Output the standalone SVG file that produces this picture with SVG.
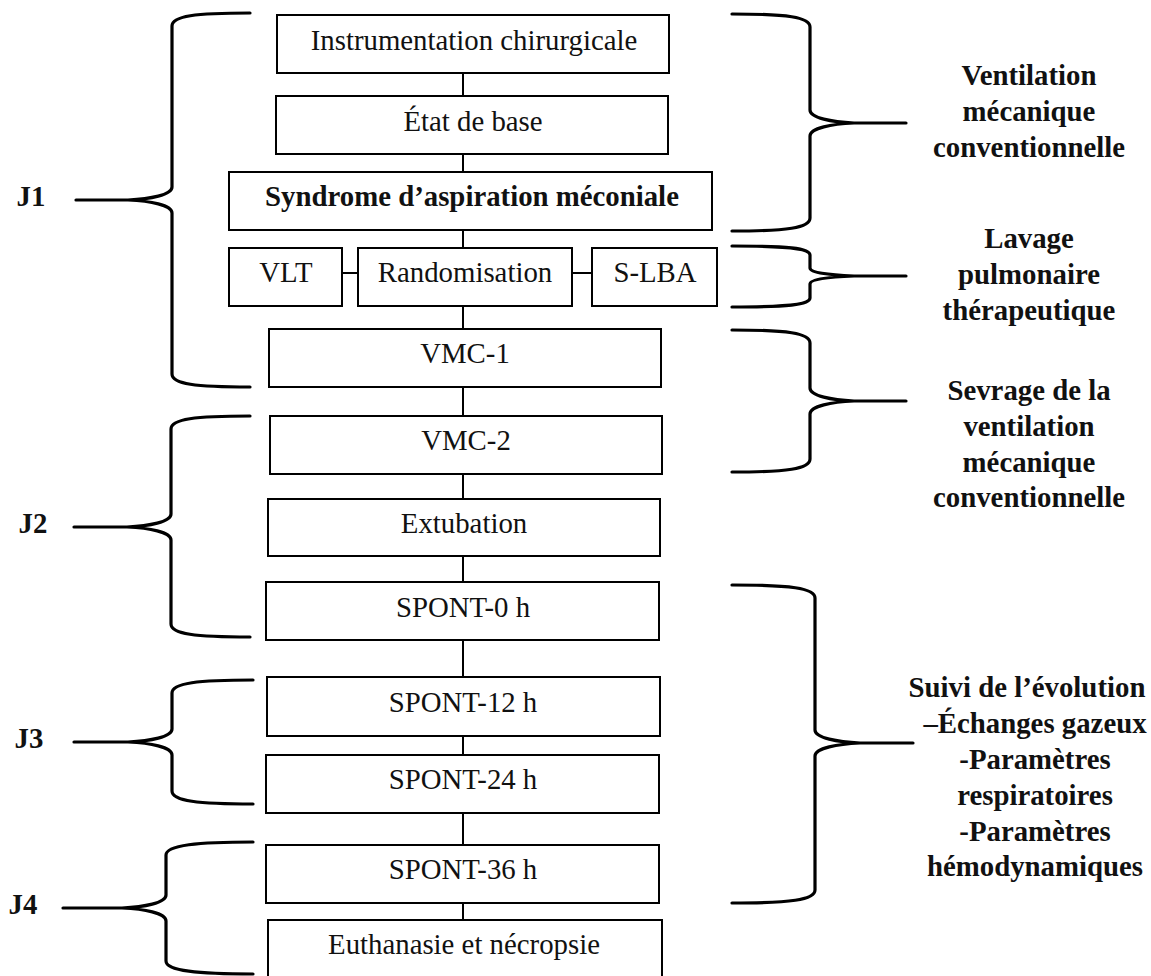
<svg xmlns="http://www.w3.org/2000/svg" width="1151" height="976" viewBox="0 0 1151 976">
<style>
.box{fill:#fff;stroke:#000;stroke-width:2}
.t{font-family:"Liberation Serif","Times New Roman",serif;font-size:28.8px;fill:#111;text-anchor:middle}
.b{font-family:"Liberation Serif","Times New Roman",serif;font-size:28.8px;font-weight:bold;fill:#111;text-anchor:middle}
.con{stroke:#000;stroke-width:2;fill:none}
.br{stroke:#000;stroke-width:3.2;fill:none;stroke-linecap:round}
</style>
<rect width="1151" height="976" fill="#fff"/>
<g id="connectors">
<line class="con" x1="463" y1="73" x2="463" y2="96"/>
<line class="con" x1="463" y1="154" x2="463" y2="172"/>
<line class="con" x1="463" y1="230" x2="463" y2="248"/>
<line class="con" x1="342" y1="273" x2="358" y2="273"/>
<line class="con" x1="572" y1="273" x2="592" y2="273"/>
<line class="con" x1="463" y1="306" x2="463" y2="329"/>
<line class="con" x1="463" y1="387" x2="463" y2="416"/>
<line class="con" x1="463" y1="474" x2="463" y2="499"/>
<line class="con" x1="463" y1="556" x2="463" y2="582"/>
<line class="con" x1="463" y1="640" x2="463" y2="677"/>
<line class="con" x1="463" y1="736" x2="463" y2="755"/>
<line class="con" x1="463" y1="813" x2="463" y2="845"/>
<line class="con" x1="463" y1="903" x2="463" y2="920"/>
</g>
<g id="brackets">
<path id="br-j1" class="br" d="M250,13 C195,13 172,16 172,26 L172,187 C172,195 150,199 128,200 L76,200 M128,200 C150,201 172,205 172,213 L172,374 C172,384 195,387 250,387"/>
<path id="br-j2" class="br" d="M250,416 C195,416 171,419 171,429 L171,514 C171,522 149,526 127,527 L74,527 M127,527 C149,528 171,532 171,540 L171,624 C171,634 195,637 250,637"/>
<path id="br-j3" class="br" d="M253,680 C198,680 172,683 172,693 L172,729 C172,737 150,741 128,742 L74,742 M128,742 C150,743 172,747 172,755 L172,791 C172,801 198,804 253,804"/>
<path id="br-j4" class="br" d="M253,842 C198,842 166,845 166,855 L166,895 C166,903 144,907 122,908 L63,908 M122,908 C144,909 166,913 166,921 L166,961 C166,971 198,974 253,974"/>
<path id="br-vmc" class="br" d="M732,14 C787,14 810,17 810,27 L810,110 C810,118 832,122 854,123 L906,123 M854,123 C832,124 810,128 810,136 L810,218 C810,228 787,231 732,231"/>
<path id="br-lav" class="br" d="M732,246 C787,246 810,248 810,255 L810,268 C810,273 832,275 854,276 L906,276 M854,276 C832,277 810,279 810,284 L810,298 C810,305 787,307 732,307"/>
<path id="br-sev" class="br" d="M732,330 C787,330 810,333 810,343 L810,388 C810,396 832,400 854,401 L906,401 M854,401 C832,402 810,406 810,414 L810,459 C810,469 787,472 732,472"/>
<path id="br-suivi" class="br" d="M732,585 C790,585 815,588 815,598 L815,730 C815,738 838,742 860,743 L913,743 M860,743 C838,744 815,748 815,756 L815,890 C815,900 790,903 732,903"/>
</g>
<g id="n-instr"><rect class="box" x="277" y="15" width="392" height="58"/><text class="t" x="474" y="50">Instrumentation chirurgicale</text></g>
<g id="n-etat"><rect class="box" x="276" y="96" width="392" height="58"/><text class="t" x="473" y="131">État de base</text></g>
<g id="n-sam"><rect class="box" x="229" y="172" width="483" height="58"/><text class="b" x="472" y="206">Syndrome d’aspiration méconiale</text></g>
<g id="n-vlt"><rect class="box" x="229" y="248" width="113" height="58"/><text class="t" x="286" y="282">VLT</text></g>
<g id="n-rand"><rect class="box" x="358" y="248" width="214" height="58"/><text class="t" x="465" y="282">Randomisation</text></g>
<g id="n-slba"><rect class="box" x="592" y="248" width="125" height="58"/><text class="t" x="655" y="282">S-LBA</text></g>
<g id="n-vmc1"><rect class="box" x="269" y="329" width="392" height="58"/><text class="t" x="465" y="363">VMC-1</text></g>
<g id="n-vmc2"><rect class="box" x="270" y="416" width="392" height="58"/><text class="t" x="466" y="450">VMC-2</text></g>
<g id="n-extub"><rect class="box" x="268" y="499" width="392" height="57"/><text class="t" x="464" y="533">Extubation</text></g>
<g id="n-sp0"><rect class="box" x="266" y="582" width="393" height="58"/><text class="t" x="463" y="617">SPONT-0 h</text></g>
<g id="n-sp12"><rect class="box" x="267" y="677" width="393" height="59"/><text class="t" x="463" y="712">SPONT-12 h</text></g>
<g id="n-sp24"><rect class="box" x="266" y="755" width="393" height="58"/><text class="t" x="463" y="789">SPONT-24 h</text></g>
<g id="n-sp36"><rect class="box" x="266" y="845" width="393" height="58"/><text class="t" x="463" y="879">SPONT-36 h</text></g>
<g id="n-euth"><rect class="box" x="268" y="920" width="394" height="70"/><text class="t" x="464" y="954">Euthanasie et nécropsie</text></g>
<g id="l-j1"><text class="b" x="31" y="206">J1</text></g>
<g id="l-j2"><text class="b" x="33" y="533">J2</text></g>
<g id="l-j3"><text class="b" x="29" y="748">J3</text></g>
<g id="l-j4"><text class="b" x="23" y="914">J4</text></g>
<g id="l-vmc"><text class="b" x="1029" y="85">Ventilation</text><text class="b" x="1029" y="121">mécanique</text><text class="b" x="1029" y="157">conventionnelle</text></g>
<g id="l-lav"><text class="b" x="1029" y="248">Lavage</text><text class="b" x="1029" y="284">pulmonaire</text><text class="b" x="1029" y="320">thérapeutique</text></g>
<g id="l-sev"><text class="b" x="1029" y="400">Sevrage de la</text><text class="b" x="1029" y="436">ventilation</text><text class="b" x="1029" y="472">mécanique</text><text class="b" x="1029" y="507">conventionnelle</text></g>
<g id="l-suivi"><text class="b" x="1027" y="697">Suivi de l’évolution</text><text class="b" x="1035" y="733">–Échanges gazeux</text><text class="b" x="1035" y="769">-Paramètres</text><text class="b" x="1035" y="805">respiratoires</text><text class="b" x="1035" y="841">-Paramètres</text><text class="b" x="1035" y="876">hémodynamiques</text></g>
</svg>
